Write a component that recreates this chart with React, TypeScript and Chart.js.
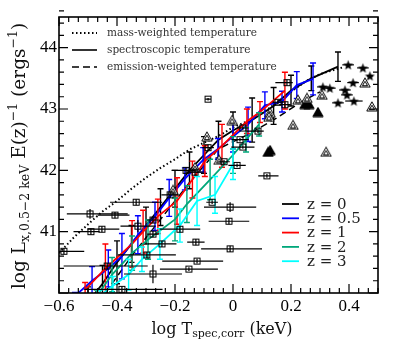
import React, { useEffect, useRef } from 'react';
import { Chart, registerables } from 'chart.js';

Chart.register(...registerables);

// ---------- axes ----------
const X_MIN = -0.6;
const X_MAX = 0.5;
const Y_MIN = 40;
const Y_MAX = 44.5;
const X_TICKS = [-0.6, -0.4, -0.2, 0, 0.2, 0.4];
const Y_TICKS = [41, 42, 43, 44];
const X_MINOR_STEP = 0.2 / 6;
const Y_MINOR_STEP = 0.2;

// ---------- model curves (z = 0) ----------
const massX = [-0.6, -0.55, -0.5, -0.45, -0.4, -0.35, -0.3, -0.25, -0.2, -0.15, -0.1, -0.05, 0, 0.05, 0.1, 0.15, 0.2, 0.25, 0.3, 0.38];
const massY = [40.65, 40.9, 41.12, 41.33, 41.5, 41.7, 41.88, 42.04, 42.18, 42.34, 42.45, 42.56, 42.7, 42.8, 42.93, 43.1, 43.28, 43.45, 43.57, 43.68];

const emisX = [-0.44, -0.35, -0.25, -0.15, -0.05, 0.05, 0.15, 0.23, 0.3];
const emisY = [40.0, 40.6, 41.2, 41.8, 42.35, 42.58, 42.85, 43.1, 43.28];

// ---------- spectroscopic temperature, by redshift ----------
const z0X = [-0.5, -0.45, -0.4, -0.35, -0.3, -0.25, -0.2, -0.15, -0.1, -0.05, 0.0, 0.066, 0.14, 0.2, 0.27, 0.362];
const z0Y = [39.85, 40.15, 40.5, 40.8, 41.1, 41.4, 41.7, 42.0, 42.25, 42.5, 42.65, 42.82, 43.05, 43.3, 43.5, 43.69];
const z0E = [0.25, 0.3, 0.35, 0.3, 0.3, 0.3, 0.3, 0.3, 0.3, 0.3, 0.3, 0.36, 0.3, 0.25, 0.2, 0.24];

const z05X = [-0.545, -0.486, -0.43, -0.383, -0.328, -0.269, -0.22, -0.166, -0.103, -0.052, 0.0, 0.052, 0.11, 0.169, 0.22, 0.276];
const z05Y = [39.95, 40.2, 40.4, 40.6, 40.95, 41.25, 41.55, 41.86, 42.17, 42.35, 42.55, 42.75, 43.06, 43.12, 43.39, 43.49];
const z05E = [0.06, 0.23, 0.3, 0.37, 0.31, 0.23, 0.3, 0.18, 0.2, 0.17, 0.25, 0.28, 0.22, 0.17, 0.22, 0.26];

const z1X = [-0.51, -0.44, -0.348, -0.31, -0.259, -0.193, -0.14, -0.097, -0.038, 0.048, 0.093, 0.179];
const z1Y = [40.05, 40.4, 40.8, 41.0, 41.25, 41.5, 41.85, 42.15, 42.4, 42.8, 42.95, 43.3];
const z1E = [0.12, 0.4, 0.38, 0.35, 0.28, 0.38, 0.3, 0.25, 0.35, 0.2, 0.17, 0.3];

const z2X = [-0.47, -0.417, -0.348, -0.293, -0.2, -0.159, -0.079, 0.0, 0.045, 0.09];
const z2Y = [39.95, 40.3, 40.65, 40.87, 41.2, 41.45, 41.85, 42.25, 42.5, 42.75];
const z2E = [0.1, 0.28, 0.28, 0.32, 0.35, 0.3, 0.33, 0.3, 0.2, 0.19];

const z3X = [-0.46, -0.414, -0.36, -0.314, -0.252, -0.183, -0.124, -0.062, 0.0];
const z3Y = [39.95, 40.12, 40.3, 40.55, 40.8, 41.1, 41.5, 41.6, 42.1];
const z3E = [0.1, 0.15, 0.25, 0.2, 0.25, 0.27, 0.4, 0.3, 0.25];

const Z_LABELS = ['z = 0', 'z = 0.5', 'z = 1', 'z = 2', 'z = 3'];
const Z_COLORS = ['#000000', '#0000ff', '#ff0000', '#00a77a', '#00ffff'];

// ---------- observed groups / clusters ----------
const sqX = [-0.583, -0.493, -0.49, -0.452, -0.407, -0.334, -0.328, -0.297, -0.276, -0.383, -0.434, -0.183, -0.245, -0.152, -0.124, 0.117, 0.014, -0.072, -0.01, -0.014, -0.01, -0.086, 0.186, 0.179, 0.155, 0.086, 0.034, 0.024, 0.034, -0.086, -0.276, -0.276, -0.217, -0.162, -0.131, -0.128, -0.031];
const sqY = [40.68, 41.29, 41.0, 41.04, 41.27, 41.48, 41.09, 40.62, 40.31, 40.06, 40.44, 41.04, 40.8, 40.39, 40.52, 41.91, 42.08, 41.48, 41.4, 41.17, 40.72, 43.16, 43.43, 43.07, 43.11, 42.64, 42.69, 42.5, 42.38, 42.37, 41.19, 40.96, 41.6, 42.0, 41.97, 40.83, 42.14];
const sqXLo = [0.02, 0.08, 0.06, 0.05, 0.06, 0.09, 0.06, 0.1, 0.1, 0.13, 0.15, 0.07, 0.05, 0.1, 0.12, 0.03, 0.03, 0.02, 0.09, 0.07, 0.1, 0.01, 0.04, 0.02, 0.02, 0.04, 0.02, 0.03, 0.04, 0.02, 0.02, 0.02, 0.03, 0.05, 0.03, 0.03, 0.02];
const sqXHi = [0.07, 0.13, 0.03, 0.06, 0.05, 0.09, 0.06, 0.1, 0.1, 0.14, 0.14, 0.07, 0.05, 0.1, 0.09, 0.04, 0.03, 0.02, 0.09, 0.07, 0.11, 0.01, 0.02, 0.02, 0.02, 0.02, 0.02, 0.03, 0.04, 0.02, 0.02, 0.02, 0.03, 0.03, 0.03, 0.03, 0.02];
const sqYErr = [0.05, 0.08, 0.05, 0.05, 0.05, 0.05, 0.1, 0.05, 0.15, 0.05, 0.05, 0.05, 0.05, 0.03, 0.04, 0.03, 0.03, 0.03, 0.08, 0.05, 0.05, 0.02, 0.05, 0.05, 0.04, 0.03, 0.03, 0.03, 0.03, 0.05, 0.05, 0.05, 0.05, 0.05, 0.05, 0.05, 0.03];

const triX = [-0.003, -0.09, -0.048, -0.207, -0.131, 0.128, 0.207, 0.224, 0.255, 0.307, 0.321, 0.455, 0.479, 0.124];
const triY = [42.82, 42.55, 42.17, 41.68, 42.05, 42.94, 42.74, 43.15, 43.18, 43.23, 42.3, 43.43, 43.04, 42.87];
const triFX = [0.121, 0.128, 0.248, 0.262, 0.293];
const triFY = [42.3, 42.33, 43.08, 43.08, 42.95];

const starX = [0.397, 0.448, 0.472, 0.414, 0.31, 0.334, 0.386, 0.393, 0.417, 0.362];
const starY = [43.72, 43.67, 43.54, 43.43, 43.36, 43.34, 43.31, 43.23, 43.13, 43.1];
const starXErr = [0.02, 0.02, 0.01, 0.02, 0.02, 0.02, 0.02, 0.02, 0.03, 0.02];

const MODEL_LABELS = ['mass-weighted temperature', 'spectroscopic temperature', 'emission-weighted temperature'];

const SERIF = '"DejaVu Serif", serif';
const TICK_FONT = '"Liberation Serif", serif';

function pts(xs: number[], ys: number[]) {
  return xs.map((x, i) => ({ x, y: ys[i] }));
}

function makeSquare() {
  const c = document.createElement('canvas');
  c.width = 9; c.height = 9;
  const g = c.getContext('2d')!;
  g.strokeStyle = '#000'; g.lineWidth = 1;
  g.strokeRect(1.5, 1.5, 6, 6);
  return c;
}
function makeTriangle(filled: boolean) {
  const c = document.createElement('canvas');
  c.width = 12; c.height = 11;
  const g = c.getContext('2d')!;
  g.strokeStyle = '#000'; g.lineWidth = 1;
  g.beginPath(); g.moveTo(6, 0.8); g.lineTo(11.2, 10); g.lineTo(0.8, 10); g.closePath();
  if (filled) { g.fillStyle = '#000'; g.fill(); g.stroke(); }
  else {
    g.fillStyle = '#fff'; g.fill(); g.stroke();
    g.beginPath(); g.moveTo(6, 4.2); g.lineTo(8.6, 8.6); g.lineTo(3.4, 8.6); g.closePath(); g.stroke();
  }
  return c;
}
function makeStar() {
  const c = document.createElement('canvas');
  const s = 11; c.width = s; c.height = s;
  const g = c.getContext('2d')!;
  g.beginPath();
  for (let i = 0; i < 10; i++) {
    const a = -Math.PI / 2 + (i * Math.PI) / 5;
    const r = i % 2 ? 2.2 : 5.2;
    g.lineTo(s / 2 + r * Math.cos(a), s / 2 + 0.5 + r * Math.sin(a));
  }
  g.closePath(); g.fillStyle = '#000'; g.fill();
  return c;
}

const errorBarPlugin = {
  id: 'errorBars',
  beforeDatasetDraw(chart: any, args: any) {
    const ds = chart.data.datasets[args.index];
    const eb = ds.errorBars;
    if (!eb) return;
    const { ctx, chartArea: a } = chart;
    const xs = chart.scales.x, ys = chart.scales.y;
    ctx.save();
    ctx.beginPath(); ctx.rect(a.left, a.top, a.right - a.left, a.bottom - a.top); ctx.clip();
    ctx.strokeStyle = eb.color; ctx.lineWidth = eb.width;
    ds.data.forEach((p: any, i: number) => {
      const px = xs.getPixelForValue(p.x);
      const py = ys.getPixelForValue(p.y);
      ctx.beginPath();
      if (eb.yErr) {
        const y1 = ys.getPixelForValue(p.y - eb.yErr[i]);
        const y2 = ys.getPixelForValue(p.y + eb.yErr[i]);
        ctx.moveTo(px, y1); ctx.lineTo(px, y2);
        if (eb.cap) {
          ctx.moveTo(px - eb.cap, y1); ctx.lineTo(px + eb.cap, y1);
          ctx.moveTo(px - eb.cap, y2); ctx.lineTo(px + eb.cap, y2);
        }
      }
      if (eb.xLo) {
        const x1 = xs.getPixelForValue(p.x - eb.xLo[i]);
        const x2 = xs.getPixelForValue(p.x + eb.xHi[i]);
        ctx.moveTo(x1, py); ctx.lineTo(x2, py);
      }
      ctx.stroke();
    });
    ctx.restore();
  },
};

const framePlugin = {
  id: 'frame',
  afterDatasetsDraw(chart: any) {
    const { ctx, chartArea: a } = chart;
    const xs = chart.scales.x, ys = chart.scales.y;
    ctx.save();
    ctx.strokeStyle = '#000';
    ctx.lineWidth = 1.6;
    ctx.strokeRect(a.left, a.top, a.right - a.left, a.bottom - a.top);
    ctx.lineWidth = 1.2;
    ctx.beginPath();
    const nx = Math.round((X_MAX - X_MIN) / X_MINOR_STEP);
    for (let i = 0; i <= nx; i++) {
      const v = X_MIN + i * X_MINOR_STEP;
      const major = X_TICKS.some((t) => Math.abs(t - v) < 1e-6);
      const L = major ? 9 : 5;
      const px = xs.getPixelForValue(v);
      ctx.moveTo(px, a.bottom); ctx.lineTo(px, a.bottom - L);
      ctx.moveTo(px, a.top); ctx.lineTo(px, a.top + L);
    }
    const ny = Math.round((Y_MAX - Y_MIN) / Y_MINOR_STEP);
    for (let i = 0; i <= ny; i++) {
      const v = Y_MIN + i * Y_MINOR_STEP;
      const major = Math.abs(v - Math.round(v)) < 1e-6;
      const L = major ? 9 : 5;
      const py = ys.getPixelForValue(v);
      ctx.moveTo(a.left, py); ctx.lineTo(a.left + L, py);
      ctx.moveTo(a.right, py); ctx.lineTo(a.right - L, py);
    }
    ctx.stroke();
    ctx.restore();
  },
  afterDraw(chart: any) {
    const { ctx, chartArea: a } = chart;
    ctx.save();
    // model legend (top-left)
    const styles: number[][] = [[1.5, 2.5], [], [7, 4]];
    ctx.font = `10.5px ${SERIF}`;
    ctx.textBaseline = 'middle';
    MODEL_LABELS.forEach((lab, i) => {
      const y = a.top + 16 + i * 17;
      ctx.strokeStyle = '#000';
      ctx.lineWidth = i === 0 ? 1.8 : 1.6;
      ctx.setLineDash(styles[i]);
      ctx.beginPath(); ctx.moveTo(a.left + 13, y); ctx.lineTo(a.left + 38, y); ctx.stroke();
      ctx.setLineDash([]);
      ctx.fillStyle = '#333';
      ctx.fillText(lab, a.left + 48, y);
    });
    // redshift legend (bottom-right)
    ctx.font = `15px ${SERIF}`;
    Z_LABELS.forEach((lab, i) => {
      const y = a.top + 187 + i * 14.3;
      ctx.strokeStyle = Z_COLORS[i];
      ctx.lineWidth = 1.8;
      ctx.beginPath(); ctx.moveTo(a.left + 223, y); ctx.lineTo(a.left + 240, y); ctx.stroke();
      ctx.fillStyle = '#222';
      ctx.fillText(lab, a.left + 248, y + 1);
    });
    // axis titles
    const drawRich = (parts: { t: string; s: number; dy: number }[], cx: number, by: number) => {
      let w = 0;
      parts.forEach((p) => { ctx.font = `${p.s}px ${SERIF}`; w += ctx.measureText(p.t).width; });
      let x = cx - w / 2;
      ctx.textBaseline = 'alphabetic';
      ctx.textAlign = 'left';
      ctx.fillStyle = '#111';
      parts.forEach((p) => {
        ctx.font = `${p.s}px ${SERIF}`;
        ctx.fillText(p.t, x, by + p.dy);
        x += ctx.measureText(p.t).width;
      });
    };
    drawRich([
      { t: 'log T', s: 16, dy: 0 },
      { t: 'spec,corr', s: 11, dy: 3 },
      { t: ' (keV)', s: 16, dy: 0 },
    ], 222, 334);
    ctx.save();
    ctx.translate(25, 156);
    ctx.rotate(-Math.PI / 2);
    drawRich([
      { t: 'log L', s: 18.5, dy: 0 },
      { t: 'x,0.5\u22122 keV', s: 12.5, dy: 3.5 },
      { t: ' E(z)', s: 18.5, dy: 0 },
      { t: '\u22121', s: 12.5, dy: -8 },
      { t: ' (ergs', s: 18.5, dy: 0 },
      { t: '\u22121', s: 12.5, dy: -8 },
      { t: ')', s: 18.5, dy: 0 },
    ], 0, 0);
    ctx.restore();
    ctx.restore();
  },
};

export default function App() {
  const ref = useRef<HTMLCanvasElement | null>(null);
  useEffect(() => {
    document.body.style.margin = '0';
    const canvas = ref.current!;
    const square = makeSquare();
    const triOpen = makeTriangle(false);
    const triFilled = makeTriangle(true);
    const star = makeStar();

    const zSets = [
      [z0X, z0Y, z0E], [z05X, z05Y, z05E], [z1X, z1Y, z1E], [z2X, z2Y, z2E], [z3X, z3Y, z3E],
    ];

    const datasets: any[] = [];
    datasets.push({
      label: 'groups', data: pts(sqX, sqY), showLine: false, pointStyle: square, pointRadius: 4, order: 0,
      errorBars: { color: '#000', width: 1.2, yErr: sqYErr, xLo: sqXLo, xHi: sqXHi, cap: 0 },
    });
    datasets.push({ label: 'tri', data: pts(triX, triY), showLine: false, pointStyle: triOpen, pointRadius: 4, order: 1 });
    datasets.push({ label: 'triF', data: pts(triFX, triFY), showLine: false, pointStyle: triFilled, pointRadius: 4, order: 1 });
    datasets.push({
      label: 'stars', data: pts(starX, starY), showLine: false, pointStyle: star, pointRadius: 4, order: 1,
      errorBars: { color: '#000', width: 1.2, xLo: starXErr, xHi: starXErr, cap: 0 },
    });
    zSets.forEach(([xs, ys, es], i) => {
      datasets.push({
        label: Z_LABELS[i], data: pts(xs as number[], ys as number[]), showLine: true, pointRadius: 0,
        borderColor: Z_COLORS[i], borderWidth: 1.8, order: 6 - i,
        errorBars: { color: Z_COLORS[i], width: 1.4, yErr: es, cap: 3 },
      });
    });
    datasets.push({ label: MODEL_LABELS[0], data: pts(massX, massY), showLine: true, pointRadius: 0, borderColor: '#000', borderWidth: 2, borderDash: [1.5, 2.5], order: 8 });
    datasets.push({ label: MODEL_LABELS[2], data: pts(emisX, emisY), showLine: true, pointRadius: 0, borderColor: '#000', borderWidth: 1.5, borderDash: [7, 4], order: 8 });

    const fmtX = (v: number) => {
      const r = Math.round(v * 10) / 10;
      if (Math.abs(r) < 1e-9) return '0';
      return (r < 0 ? '\u2212' : '') + Math.abs(r).toFixed(1);
    };

    const chart = new Chart(canvas, {
      type: 'scatter',
      data: { datasets },
      plugins: [errorBarPlugin, framePlugin],
      options: {
        animation: false,
        responsive: false,
        devicePixelRatio: 1,
        layout: { padding: { top: 17, right: 21, left: 0, bottom: 0 } },
        plugins: { legend: { display: false }, tooltip: { enabled: false } },
        scales: {
          x: {
            type: 'linear', min: X_MIN, max: X_MAX,
            grid: { display: false, drawTicks: false }, border: { display: false },
            ticks: { color: '#000', font: { family: TICK_FONT, size: 17 }, padding: 3, maxRotation: 0, autoSkip: false, callback: (v: any) => fmtX(Number(v)) },
            afterBuildTicks: (s: any) => { s.ticks = X_TICKS.map((v) => ({ value: v })); },
            afterFit: (s: any) => { s.height = 49; },
          },
          y: {
            type: 'linear', min: Y_MIN, max: Y_MAX,
            grid: { display: false, drawTicks: false }, border: { display: false },
            ticks: { color: '#000', font: { family: TICK_FONT, size: 17 }, padding: 2, autoSkip: false, callback: (v: any) => String(v) },
            afterBuildTicks: (s: any) => { s.ticks = Y_TICKS.map((v) => ({ value: v })); },
            afterFit: (s: any) => { s.width = 59; },
          },
        },
      } as any,
    });
    return () => chart.destroy();
  }, []);
  return (
    <div style={{ width: 399, height: 342 }}>
      <canvas ref={ref} width={399} height={342} style={{ width: 399, height: 342, display: 'block' }} />
    </div>
  );
}
